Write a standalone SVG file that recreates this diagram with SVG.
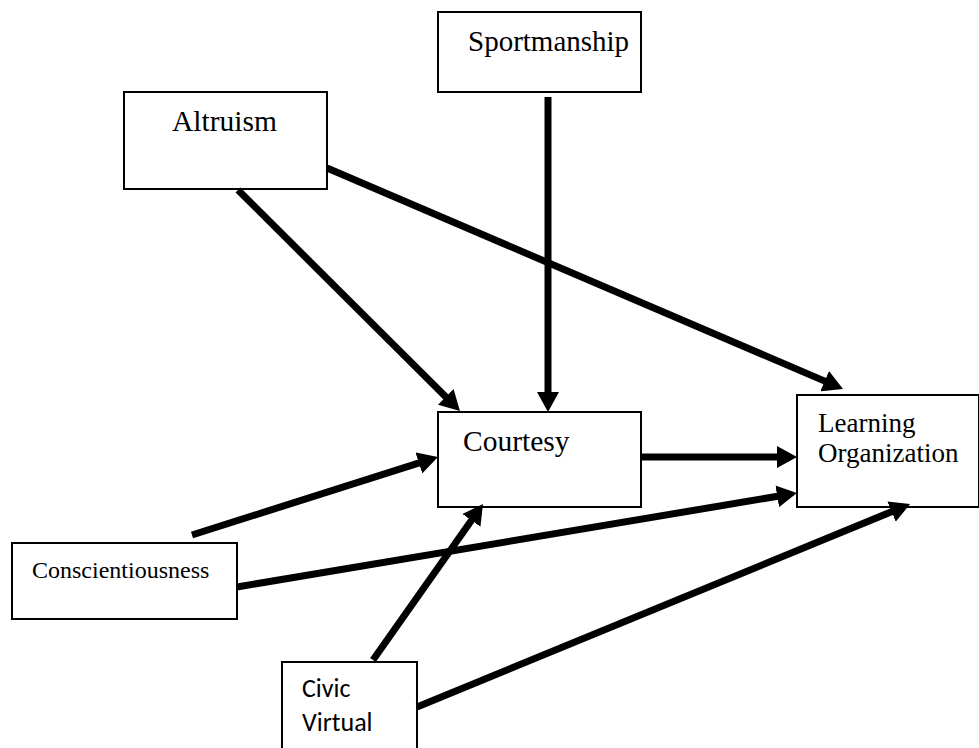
<svg xmlns="http://www.w3.org/2000/svg" width="979" height="748" viewBox="0 0 979 748">
<style>
.box{fill:#fff;stroke:#000;stroke-width:2}
.t{font-family:"Liberation Serif","Times New Roman",serif;fill:#000}
.s{font-family:"Carlito","Liberation Sans",Arial,sans-serif;fill:#000}
.c{stroke:#000;stroke-width:7;fill:none;marker-end:url(#ah)}
</style>
<defs>
<marker id="ah" markerUnits="userSpaceOnUse" viewBox="0 0 20 22" markerWidth="20" markerHeight="22" refX="2" refY="11" orient="auto">
<path d="M0,0 L20,11 L0,22 Z" fill="#000"/>
</marker>
</defs>
<rect width="979" height="748" fill="#fff"/>
<g id="sportmanship"><rect class="box" x="438" y="12" width="203" height="80"/><text class="t" x="468" y="51" font-size="29">Sportmanship</text></g>
<g id="altruism"><rect class="box" x="124" y="92" width="203" height="97"/><text class="t" x="172" y="131" font-size="29.5">Altruism</text></g>
<g id="courtesy"><rect class="box" x="438" y="412" width="203" height="95"/><text class="t" x="463" y="451" font-size="29.5">Courtesy</text></g>
<g id="learning"><rect class="box" x="797" y="395" width="182" height="112"/><text class="t" x="818" y="432" font-size="27">Learning</text><text class="t" x="818" y="462" font-size="27">Organization</text></g>
<g id="conscientiousness"><rect class="box" x="12" y="543" width="225" height="76"/><text class="t" x="32" y="578" font-size="24">Conscientiousness</text></g>
<g id="civic"><rect class="box" x="282" y="662" width="135" height="95"/><text class="s" x="302" y="697" font-size="26">Civic</text><text class="s" x="302" y="731" font-size="26">Virtual</text></g>
<g id="connectors">
<line class="c" x1="548" y1="97" x2="548" y2="394"/>
<line class="c" x1="238" y1="190" x2="447.2" y2="398.3"/>
<line class="c" x1="327" y1="168" x2="826.5" y2="381.9"/>
<line class="c" x1="641" y1="457" x2="779" y2="457"/>
<line class="c" x1="192" y1="535" x2="420.8" y2="462.4"/>
<line class="c" x1="237" y1="587" x2="779.2" y2="496"/>
<line class="c" x1="373" y1="660" x2="472.6" y2="518.7"/>
<line class="c" x1="417" y1="707" x2="893.4" y2="510.9"/>
</g>
</svg>
